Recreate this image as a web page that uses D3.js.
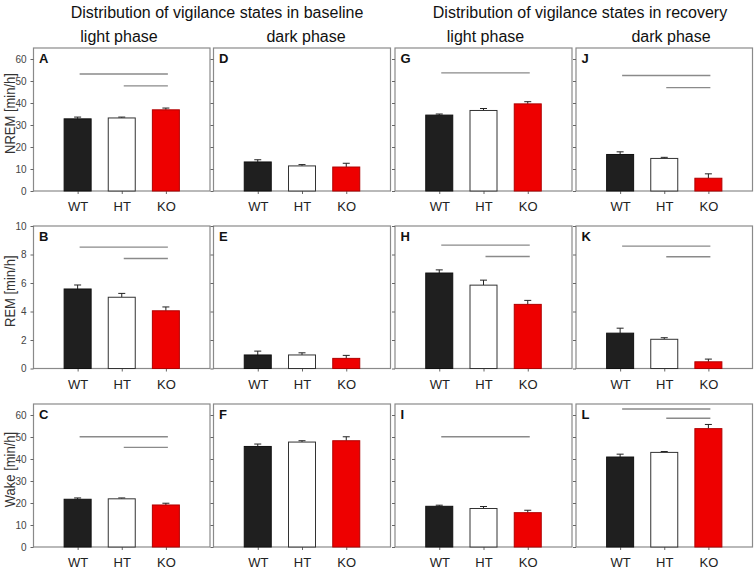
<!DOCTYPE html>
<html><head><meta charset="utf-8">
<script src="https://cdn.jsdelivr.net/npm/d3@7"></script>
<style>
body{margin:0;background:#fff;}
svg{display:block;font-family:Arial,"Liberation Sans",sans-serif;}
</style></head>
<body>
<svg id="chart" width="755" height="576"></svg>
<script>
const categories = ["WT","HT","KO"];
const panelLetters = [["A","D","G","J"],["B","E","H","K"],["C","F","I","L"]];
const yLabels = ["NREM [min/h]","REM [min/h]","Wake [min/h]"];
const yMax = [65,10,65];
const yTicks = [[0,10,20,30,40,50,60],[0,2,4,6,8,10],[0,10,20,30,40,50,60]];
const mainTitles = ["Distribution of vigilance states in baseline","Distribution of vigilance states in recovery"];
const phaseTitles = ["light phase","dark phase","light phase","dark phase"];

// columns: baseline light, baseline dark, recovery light, recovery dark
const nremMean = [[32.8,33.2,36.9],[13.2,11.4,10.9],[34.5,36.6,39.6],[16.6,14.8,5.8]];
const nremErr  = [[0.8,0.4,0.8],[1.0,0.6,1.7],[0.5,0.9,1.0],[1.2,0.5,2.0]];
const remMean  = [[5.58,5.0,4.05],[0.95,0.95,0.71],[6.7,5.85,4.5],[2.48,2.05,0.47]];
const remErr   = [[0.28,0.27,0.27],[0.27,0.15,0.21],[0.22,0.35,0.28],[0.35,0.11,0.19]];
const wakeMean = [[21.7,21.9,19.1],[45.7,47.7,48.3],[18.5,17.5,15.6],[40.9,43.0,53.8]];
const wakeErr  = [[0.6,0.4,0.8],[1.1,0.6,1.8],[0.5,0.9,1.1],[1.3,0.4,1.9]];
// significance bars: [fromGroup, toGroup, yValue]
const nremSig = [[[0,2,53.2],[1,2,47.8]],[],[[0,2,53.7]],[[0,2,52.5],[1,2,47.0]]];
const remSig  = [[[0,2,8.52],[1,2,7.72]],[],[[0,2,8.66],[1,2,7.86]],[[0,2,8.59],[1,2,7.84]]];
const wakeSig = [[[0,2,50.1],[1,2,45.3]],[],[[0,2,50.1]],[[0,2,62.7],[1,2,58.5]]];

const means = [nremMean, remMean, wakeMean];
const errs = [nremErr, remErr, wakeErr];
const sigs = [nremSig, remSig, wakeSig];

const colLeft = [33.5, 213.5, 395, 576];
const colW = [176.5, 177, 177, 176.5];
const rowTop = [48, 226, 404];
const rowBot = [191, 368.5, 547];
const fills = ["#1f1f1f","#ffffff","#ee0000"];
const strokes = ["#111111","#333333","#b00000"];

const svg = d3.select("#chart");

// titles
svg.append("text").attr("x",217).attr("y",18).attr("text-anchor","middle")
  .attr("font-size",16).attr("fill","#111").text(mainTitles[0]);
svg.append("text").attr("x",580).attr("y",18).attr("text-anchor","middle")
  .attr("font-size",16).attr("fill","#111").text(mainTitles[1]);
const phaseX = [119, 306, 485.5, 671];
phaseTitles.forEach((t,i)=>{
  svg.append("text").attr("x",phaseX[i]).attr("y",42).attr("text-anchor","middle")
    .attr("font-size",16).attr("fill","#111").text(t);
});

for (let r=0;r<3;r++){
  const y = d3.scaleLinear().domain([0,yMax[r]]).range([rowBot[r],rowTop[r]]);
  // y label
  svg.append("text")
    .attr("transform",`translate(15,${(rowTop[r]+rowBot[r])/2-6}) rotate(-90) scale(1,1.15)`)
    .attr("text-anchor","middle").attr("font-size",13).attr("fill","#333")
    .text(yLabels[r]);
  for (let c=0;c<4;c++){
    const x0 = colLeft[c], w = colW[c];
    const x = d3.scalePoint().domain(categories).range([x0,x0+w]).padding(1);
    const g = svg.append("g");
    // frame
    g.append("rect").attr("x",x0).attr("y",rowTop[r]).attr("width",w)
      .attr("height",rowBot[r]-rowTop[r]).attr("fill","none")
      .attr("stroke","#8a8a8a").attr("stroke-width",1.2);
    // y axis
    const ya = d3.axisLeft(y).tickValues(yTicks[r]).tickSize(3).tickSizeOuter(0)
      .tickFormat(c===0 ? d3.format("d") : ()=>"");
    const yg = g.append("g").attr("transform",`translate(${x0},0)`).call(ya);
    yg.select(".domain").remove();
    yg.selectAll("line").attr("stroke","#666");
    yg.selectAll("text").attr("font-size",10).attr("fill","#444")
      .attr("font-family","Arial, 'Liberation Sans', sans-serif").attr("dx",-1);
    // x axis
    const xa = d3.axisBottom(x).tickSize(3).tickSizeOuter(0);
    const xg = g.append("g").attr("transform",`translate(0,${rowBot[r]})`).call(xa);
    xg.select(".domain").remove();
    xg.selectAll("line").attr("stroke","#666");
    xg.selectAll("text").attr("font-size",13).attr("fill","#222")
      .attr("font-family","Arial, 'Liberation Sans', sans-serif")
      .attr("dy",0).attr("y",20);
    // bars
    const bw = 27;
    const data = categories.map((k,i)=>({k,i,m:means[r][c][i],e:errs[r][c][i]}));
    // error bars
    g.selectAll(".eb").data(data).enter().append("path")
      .attr("d",d=>{const cx=x(d.k); const yt=y(d.m), ye=y(d.m+d.e);
        return `M${cx},${yt}V${ye}M${cx-3.5},${ye}H${cx+3.5}`;})
      .attr("stroke","#222").attr("stroke-width",1).attr("fill","none");
    g.selectAll(".bar").data(data).enter().append("rect")
      .attr("x",d=>x(d.k)-bw/2).attr("width",bw)
      .attr("y",d=>y(d.m)).attr("height",d=>rowBot[r]-y(d.m))
      .attr("fill",d=>fills[d.i]).attr("stroke",d=>strokes[d.i]).attr("stroke-width",1);
    // significance lines
    sigs[r][c].forEach(s=>{
      g.append("line").attr("x1",x(categories[s[0]])+2).attr("x2",x(categories[s[1]])+2)
        .attr("y1",y(s[2])).attr("y2",y(s[2]))
        .attr("stroke","#8a8a8a").attr("stroke-width",1.4);
    });
    // panel letter
    g.append("text").attr("x",x0+5.5).attr("y",rowTop[r]+15)
      .attr("font-size",13).attr("font-weight","bold").attr("fill","#111")
      .text(panelLetters[r][c]);
  }
}
</script>
</body></html>
